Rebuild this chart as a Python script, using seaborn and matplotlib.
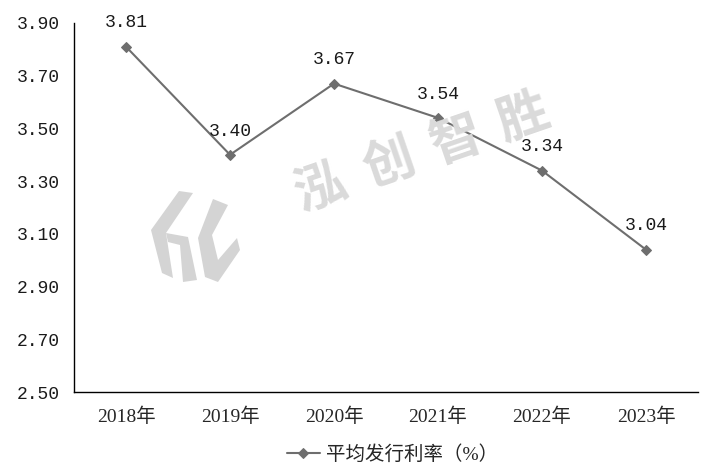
import numpy as np
import pandas as pd
import matplotlib.pyplot as plt
import seaborn as sns
from matplotlib.patches import Polygon

# chart data
years = ["2018年", "2019年", "2020年", "2021年", "2022年", "2023年"]
rates = [3.81, 3.40, 3.67, 3.54, 3.34, 3.04]
y_ticks = [2.50, 2.70, 2.90, 3.10, 3.30, 3.50, 3.70, 3.90]
series_name = "平均发行利率（%）"

df = pd.DataFrame({"year": years, "rate": rates, "series": series_name})

sns.set_style("white")
plt.rcParams["font.family"] = ["Liberation Serif", "Noto Sans CJK SC", "DejaVu Sans"]
num_font = ["Liberation Mono", "Noto Sans CJK SC"]

line_color = "#6e6e6e"
W, H = 709, 473

fig = plt.figure(figsize=(7.09, 4.73), dpi=100)
ax = fig.add_axes([0.1044, 0.1712, 0.8801, 0.7802])

# watermark (drawn behind the chart)
mark_color = "#dadada"
for ch, (px, py) in zip("泓创智胜", [(320, 187), (389, 163), (456, 140), (523, 117)]):
    fig.text(px / W, 1 - py / H, ch, fontsize=37, fontweight="bold", color=mark_color,
             rotation=19, ha="center", va="center", family=["Noto Sans CJK SC"], zorder=0)

logo = [
    [(179, 191), (193, 193), (166, 233), (173, 278), (162, 273), (151, 230)],
    [(166, 233), (188, 237), (197, 280), (183, 282), (180, 245), (168, 242)],
    [(213, 199), (228, 205), (212, 235), (218, 260), (237, 238), (240, 250),
     (218, 282), (205, 277), (198, 238)],
]
for pts in logo:
    fig.patches.append(Polygon([(x / W, 1 - y / H) for x, y in pts], closed=True,
                               transform=fig.transFigure, facecolor="#d4d4d4",
                               edgecolor="none", zorder=0))

sns.lineplot(data=df, x="year", y="rate", hue="series", palette=[line_color],
             marker="D", markersize=5, markeredgecolor=line_color, linewidth=1.5,
             sort=False, ax=ax, zorder=3)

for i, v in enumerate(rates):
    ax.annotate(f"{v:.2f}", (i, v), xytext=(0, 11), textcoords="offset points",
                ha="center", va="bottom", fontsize=13, family=num_font, color="#1a1a1a")

ax.set_ylim(2.50, 3.90)
ax.set_yticks(y_ticks)
ax.set_yticklabels([f"{t:.2f}" for t in y_ticks], family=num_font, fontsize=13)
ax.set_xlim(-0.5, len(years) - 0.5)
ax.set_xticks(np.arange(-0.5, len(years)))
ax.set_xticklabels([])
ax.set_xticks(range(len(years)), minor=True)
ax.set_xticklabels(years, minor=True, fontsize=14)
ax.tick_params(axis="x", which="minor", length=0, pad=11)
ax.tick_params(axis="x", which="major", length=8, width=1, color="black", direction="out")
ax.tick_params(axis="y", length=7, width=1, color="black", direction="out", pad=3,
               labelcolor="#1a1a1a")
ax.set_xlabel("")
ax.set_ylabel("")

sns.despine(ax=ax)
for s in ["left", "bottom"]:
    ax.spines[s].set_color("black")
    ax.spines[s].set_linewidth(1)
ax.patch.set_alpha(0)

leg = ax.legend(loc="center", bbox_to_anchor=(0.51, -0.168), frameon=False,
                fontsize=14, handlelength=1.7, handletextpad=0.3, borderpad=0.2)

fig.savefig("out.png", dpi=100)
